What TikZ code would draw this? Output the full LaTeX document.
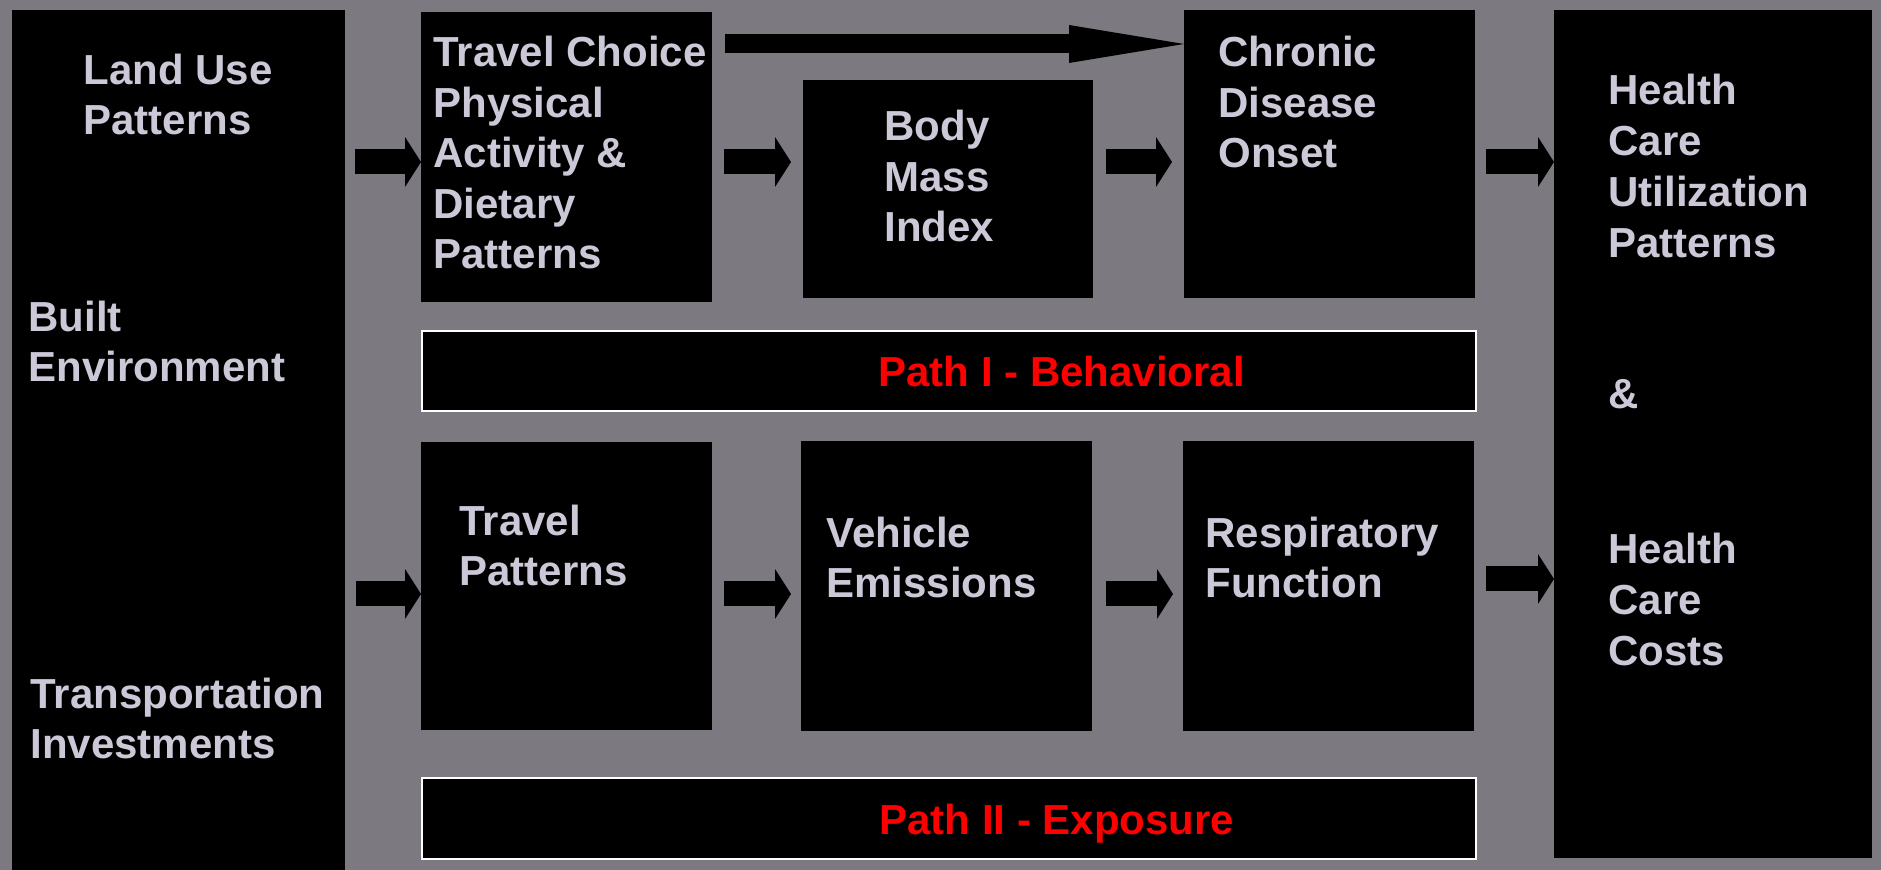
\documentclass[tikz,border=0pt]{standalone}
\usepackage{fontspec}
\setmainfont{Liberation Sans}
\usetikzlibrary{arrows.meta}

\definecolor{slide}{RGB}{124,121,128}
\definecolor{ink}{RGB}{205,200,216}

\tikzset{
  blk/.style={fill=black, inner sep=0pt, anchor=north west},
  pathbox/.style={blk, draw=white, line width=1pt},
  txt/.style={text=ink, font=\fontsize{21}{25.25}\selectfont\bfseries,
    align=left, anchor=base west, inner sep=0pt},
  pathtxt/.style={txt, text=red},
  fat/.style={line width=12.5pt, -{Triangle[width=25pt,length=8pt,line width=0pt]}},
  longfat/.style={line width=9.5pt, -{Triangle[width=19pt,length=57.5pt,line width=0pt]}},
}

\begin{document}
\begin{tikzpicture}[x=0.5pt, y=-0.5pt]
  \fill[slide] (0,0) rectangle (1881,870);
  \useasboundingbox (0,0) rectangle (1881,870);

  % boxes
  \node[blk, minimum width=166.5pt, minimum height=430pt] (env) at (12,10) {};
  \node[blk, minimum width=145.5pt, minimum height=145pt] (choice) at (421,12) {};
  \node[blk, minimum width=145pt, minimum height=109pt] (bmi) at (803,80) {};
  \node[blk, minimum width=145.5pt, minimum height=144pt] (chronic) at (1184,10) {};
  \node[blk, minimum width=159pt, minimum height=424pt] (care) at (1554,10) {};
  \node[pathbox, minimum width=527pt, minimum height=40pt] (behav) at (421,330) {};
  \node[blk, minimum width=145.5pt, minimum height=144pt] (travel) at (421,442) {};
  \node[blk, minimum width=145.5pt, minimum height=145pt] (vehicle) at (801,441) {};
  \node[blk, minimum width=145.5pt, minimum height=145pt] (resp) at (1183,441) {};
  \node[pathbox, minimum width=527pt, minimum height=40.5pt] (expo) at (421,777) {};

  % texts (placed at the baseline of their last line)
  \node[txt] (landtxt) at (83,135) {Land Use\\Patterns};
  \node[txt] (builttxt) at (28,382) {Built\\Environment};
  \node[txt] (transtxt) at (30,759) {Transportation\\Investments};
  \node[txt] (choicetxt) at (433,269) {Travel Choice\\Physical\\Activity \&\\Dietary\\Patterns};
  \node[txt] (bmitxt) at (884,242) {Body\\Mass\\Index};
  \node[txt] (chronictxt) at (1218,168) {Chronic\\Disease\\Onset};
  \node[txt, font=\fontsize{21}{25.5}\selectfont\bfseries] (caretxt) at (1608,666)
    {Health\\Care\\Utilization\\Patterns\\[50pt]\&\\[52pt]Health\\Care\\Costs};
  \node[pathtxt] (behavtxt) at (878,387) {Path I - Behavioral};
  \node[txt] (traveltxt) at (459,586) {Travel\\Patterns};
  \node[txt] (vehicletxt) at (826,598) {Vehicle\\Emissions};
  \node[txt] (resptxt) at (1205,598) {Respiratory\\Function};
  \node[pathtxt] (expotxt) at (879,835) {Path II - Exposure};

  % arrows
  \coordinate (rowa) at (0,162);
  \coordinate (rowb) at (0,594);
  \coordinate (rowc) at (0,579);
  \coordinate (rowl) at (0,44);
  \draw[fat, shorten <=4.5pt] (env.east |- rowa) -- (choice.west |- rowa);
  \draw[fat, shorten <=5.5pt, shorten >=6pt] (choice.east |- rowa) -- (bmi.west |- rowa);
  \draw[fat, shorten <=6pt, shorten >=6pt] (bmi.east |- rowa) -- (chronic.west |- rowa);
  \draw[fat, shorten <=5pt] (chronic.east |- rowa) -- (care.west |- rowa);
  \draw[longfat, shorten <=6pt] (choice.east |- rowl) -- (chronic.west |- rowl);
  \draw[fat, shorten <=5pt] (env.east |- rowb) -- (travel.west |- rowb);
  \draw[fat, shorten <=5.5pt, shorten >=5pt] (travel.east |- rowb) -- (vehicle.west |- rowb);
  \draw[fat, shorten <=6.5pt, shorten >=5pt] (vehicle.east |- rowb) -- (resp.west |- rowb);
  \draw[fat, shorten <=5.5pt] (resp.east |- rowc) -- (care.west |- rowc);
\end{tikzpicture}
\end{document}
